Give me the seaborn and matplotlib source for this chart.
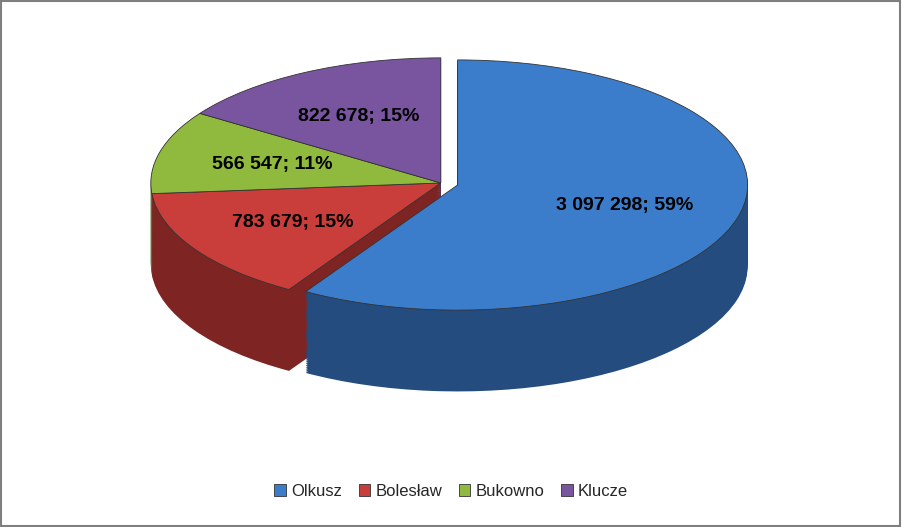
import matplotlib.pyplot as plt
import seaborn as sns
import numpy as np
from matplotlib.patches import Rectangle

sns.set_theme(style="white")
plt.rcParams['font.family'] = ['Liberation Sans', 'DejaVu Sans']

names = ['Olkusz', 'Bolesław', 'Bukowno', 'Klucze']
values = [3097298, 783679, 566547, 822678]
percents = [59, 15, 11, 15]
top_colors = ['#3C7DCB', '#C93D3A', '#90BA3E', '#7A559F']
side_colors = ['#244C7E', '#7E2523', '#5A7526', '#4B3463']
explode = [0.06, 0, 0, 0]

labels = [f"{v:,}".replace(',', ' ') + f"; {p}%" for v, p in zip(values, percents)]

fig = plt.figure(figsize=(9.02, 5.27), dpi=100)
ax = fig.add_axes([0, 0, 1, 1])

# side walls: stacked pies shifted downward
depth = 0.65
for d in np.linspace(depth, 0.01, 45):
    ax.pie(values, colors=side_colors, startangle=90, counterclock=False,
           explode=explode, center=(0, -d), wedgeprops=dict(linewidth=0))

wedges, texts = ax.pie(values, colors=top_colors, startangle=90, counterclock=False,
                       explode=explode, labels=labels, labeldistance=0.6,
                       wedgeprops=dict(linewidth=0.6, edgecolor='#333333'),
                       textprops=dict(fontsize=14, fontweight='bold', color='black'))
for t in texts:
    t.set_ha('center')

ax.set_aspect('auto')
ax.set_xlim(-1.02, 2.09)
ax.set_xlim(-1.02 - 0.5, 1.59)
ax.set_ylim(-2.75, 1.03 * 1.42)
ax.axis('off')

ax.legend(wedges, names, loc='lower center', bbox_to_anchor=(0.5, 0.025), ncol=4,
          frameon=False, fontsize=12, handlelength=0.7, handleheight=0.7,
          columnspacing=1.0, handletextpad=0.3)

fig.add_artist(Rectangle((0.001, 0.002), 0.997, 0.996, transform=fig.transFigure,
                         fill=False, edgecolor='#7f7f7f', linewidth=1.5))

fig.savefig('out.png', dpi=100)
